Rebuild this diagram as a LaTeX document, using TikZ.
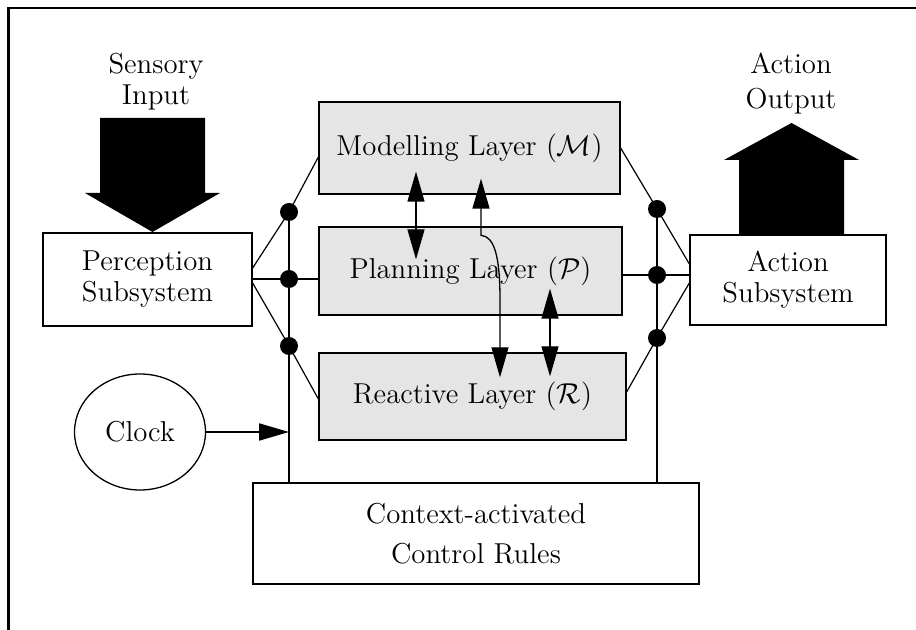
\documentclass[tikz,border=0pt]{standalone}
\usetikzlibrary{arrows.meta,calc,shapes.geometric}
\definecolor{layergray}{HTML}{E5E5E5}
\tikzset{
  every node/.style={font=\fontsize{14.4}{15.5}\selectfont},
  box/.style={draw,line width=0.65pt,align=center,inner sep=0pt},
  layer/.style={box,fill=layergray},
  dot/.style={circle,fill,inner sep=0pt,minimum size=9pt},
  link/.style={line width=0.6pt},
  arr/.style={line width=0.65pt,{Triangle[length=15pt,width=8.5pt]}-{Triangle[length=15pt,width=8.5pt]}},
}
\begin{document}
\begin{tikzpicture}[x=0.5pt,y=-0.5pt]
\useasboundingbox (0,0) rectangle (916,630);
\draw[line width=1.2pt] (8.5,630) -- (8.5,8) -- (916,8);
\node[box,minimum width=104.5pt,minimum height=46.5pt] (perc) at (147.5,279.5) {Perception\\Subsystem};
\node[box,minimum width=98pt,minimum height=45pt] (act) at (788,280) {Action\\Subsystem};
\node[layer,minimum width=150.5pt,minimum height=46pt] (model) at (469.5,148) {Modelling Layer ($\mathcal{M}$)};
\node[layer,minimum width=151.5pt,minimum height=44pt] (plan) at (470.5,271) {Planning Layer ($\mathcal{P}$)};
\node[layer,minimum width=153.5pt,minimum height=43.5pt] (react) at (472.5,396.5) {Reactive Layer ($\mathcal{R}$)};
\node[box,minimum width=223pt,minimum height=50.5pt,font=\fontsize{14.4}{20}\selectfont] (rules) at (476,533.5) {Context-activated\\Control Rules};
\node[draw,ellipse,line width=0.65pt,minimum width=65.5pt,minimum height=58pt,inner sep=0pt] (clock) at (140,432) {Clock};
\node[align=center] (sense) at (156,82) {Sensory\\Input};
\node[align=center] (output) at (791,84) {Action\\[2pt]Output};
\fill (100,118) -- (205,118) -- (205,193) -- (220,193) -- (152.5,232) -- (85,193) -- (100,193) -- cycle;
\fill (739,235) -- (739,160) -- (724,160) -- (791.5,123) -- (859,160) -- (844,160) -- (844,235) -- cycle;
\node[dot] (l1) at (289,212) {};
\node[dot] (l2) at (289,279) {};
\node[dot] (l3) at (289,346) {};
\node[dot] (r1) at (657,209) {};
\node[dot] (r2) at (657,275) {};
\node[dot] (r3) at (657,338) {};
\draw[link] (l1.center) -- (l1 |- rules.north);
\draw[link] (r1.center) -- (r1 |- rules.north);
\draw[link] ($(perc.east)+(0,-11.5)$) -- (l1.center) -- ($(model.west)+(0,9)$);
\draw[link] (perc.east |- l2) -- (plan.west |- l2);
\draw[link] ($(perc.east)+(0,3.5)$) -- (l3.center) -- ($(react.west)+(0,2.5)$);
\draw[link] (model.east) -- (r1.center) -- ($(act.west)+(0,-16)$);
\draw[link] (plan.east |- r2) -- (act.west |- r2);
\draw[link] ($(react.east)+(0,-4.5)$) -- (r3.center) -- ($(act.west)+(0,3)$);
\draw[line width=1pt,-{Triangle[length=15pt,width=8.5pt]}] (clock) -- (clock -| l2);
\draw[arr] ($(model.south)+(-53.5,-23)$) -- ($(plan.north)+(-54.5,33)$);
\draw[arr] ($(plan.south)+(79.5,-27)$) -- ($(react.north)+(77.5,24)$);
\draw[arr] ($(model.south)+(11.5,-16)$) -- ($(plan.north)+(10.5,9)$) .. controls +(13,1) and +(0,-45) .. ($(plan.center)+(29.5,29)$) -- ($(react.north)+(27.5,25)$);
\end{tikzpicture}
\end{document}
